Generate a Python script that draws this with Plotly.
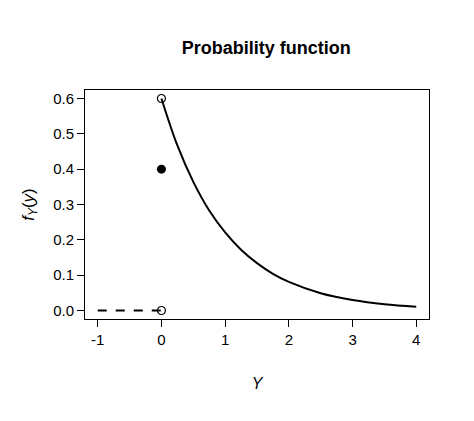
import plotly.graph_objects as go

curve_x = [0, 0.25, 0.5, 0.75, 1, 1.25, 1.5, 1.75, 2, 2.5, 3, 3.5, 4]
curve_y = [0.6, 0.467, 0.364, 0.283, 0.221, 0.172, 0.134, 0.104, 0.081, 0.049, 0.030, 0.018, 0.011]
left_x = [-1, 0]
left_y = [0, 0]
open_x = [0, 0]
open_y = [0.6, 0]
mass_x = [0]
mass_y = [0.4]
xticks = [-1, 0, 1, 2, 3, 4]
yticks = [0.0, 0.1, 0.2, 0.3, 0.4, 0.5, 0.6]

fig = go.Figure()
fig.add_trace(go.Scatter(x=curve_x, y=curve_y, mode="lines", line=dict(color="black", width=2, shape="spline")))
fig.add_trace(go.Scatter(x=left_x, y=left_y, mode="lines", line=dict(color="black", width=2, dash="dash")))
fig.add_trace(go.Scatter(x=open_x, y=open_y, mode="markers",
                         marker=dict(symbol="circle-open", size=8, color="black", line=dict(width=1.2))))
fig.add_trace(go.Scatter(x=mass_x, y=mass_y, mode="markers", marker=dict(size=9, color="black")))

axis_common = dict(showgrid=False, zeroline=False, showline=True, mirror=True, linecolor="black",
                   linewidth=1, ticks="outside", ticklen=7, tickcolor="black",
                   tickfont=dict(family="Liberation Sans, Arial", size=15, color="black"))
fig.update_xaxes(range=[-1.2, 4.2], tickvals=xticks, ticktext=[str(v) for v in xticks],
                 title=dict(text="<i>Y</i>", font=dict(family="Liberation Sans, Arial", size=16, color="black"), standoff=30),
                 **axis_common)
fig.update_yaxes(range=[-0.024, 0.624], tickvals=yticks, ticktext=[f"{v:.1f}" for v in yticks],
                 title=dict(text="<i>f<sub>Y</sub></i>(<i>y</i>)", font=dict(family="Liberation Sans, Arial", size=17, color="black"), standoff=14),
                 **axis_common)
fig.update_layout(width=474, height=421, margin=dict(l=77, r=53, t=82, b=110),
                  plot_bgcolor="white", paper_bgcolor="white", showlegend=False,
                  title=dict(text="<b>Probability function</b>", x=0.545, xanchor="center", y=0.92,
                             font=dict(family="Liberation Sans, Arial", size=18, color="black")))
fig.write_html("out.html")
